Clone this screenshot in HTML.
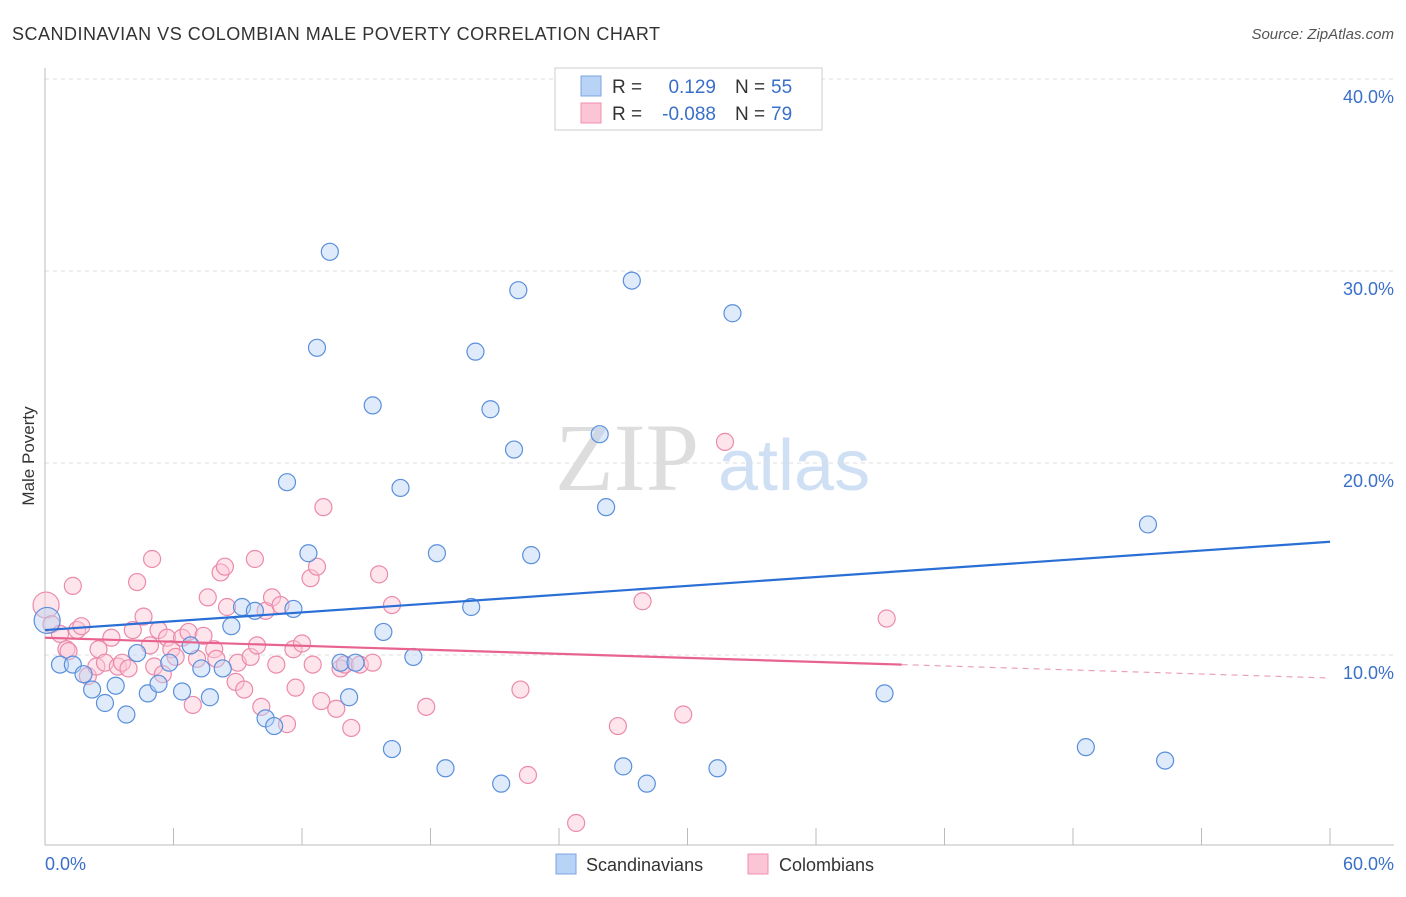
<!DOCTYPE html>
<html><head><meta charset="utf-8"><style>
body{margin:0;background:#fff;font-family:"Liberation Sans",sans-serif;}
</style></head><body>
<svg width="1406" height="892" xmlns="http://www.w3.org/2000/svg">
<text x="12" y="40" font-size="18" fill="#333" textLength="648">SCANDINAVIAN VS COLOMBIAN MALE POVERTY CORRELATION CHART</text>
<text x="1394" y="39" font-size="15" fill="#555" font-style="italic" text-anchor="end">Source: ZipAtlas.com</text>
<text x="555" y="490" font-size="96" fill="#ddd" font-family="Liberation Serif">ZIP</text>
<text x="718" y="490" font-size="72" fill="#cfe0f5">atlas</text>
<g id="grid"></g><g id="axes"></g><g id="pts"></g><g id="lines"></g>
<text transform="translate(34,456) rotate(-90)" font-size="17" fill="#333" text-anchor="middle">Male Poverty</text>
<text x="45" y="870" font-size="18" fill="#3a6fc9">0.0%</text>
<text x="1394" y="870" font-size="18" fill="#3a6fc9" text-anchor="end">60.0%</text>
<g>
<rect x="555" y="68" width="267" height="62" fill="#fff" stroke="#ccc"/>
<rect x="581" y="76" width="20" height="20" fill="#b8d3f5" stroke="#7aa5e0"/>
<rect x="581" y="103" width="20" height="20" fill="#fcc5d5" stroke="#f090b0"/>
<text x="612" y="93" font-size="19" fill="#333">R =</text><text x="716" y="93" font-size="19" fill="#3a6fc9" text-anchor="end">0.129</text>
<text x="735" y="93" font-size="19" fill="#333">N =</text><text x="771" y="93" font-size="19" fill="#3a6fc9">55</text>
<text x="612" y="120" font-size="19" fill="#333">R =</text><text x="716" y="120" font-size="19" fill="#3a6fc9" text-anchor="end">-0.088</text>
<text x="735" y="120" font-size="19" fill="#333">N =</text><text x="771" y="120" font-size="19" fill="#3a6fc9">79</text>
</g>
<g>
<rect x="556" y="854" width="20" height="20" fill="#b8d3f5" stroke="#7aa5e0"/>
<text x="586" y="871" font-size="18" fill="#333">Scandinavians</text>
<rect x="748" y="854" width="20" height="20" fill="#fcc5d5" stroke="#f090b0"/>
<text x="779" y="871" font-size="18" fill="#333">Colombians</text>
</g>
</svg>
<script>
const yTicks=[10,20,30,40];
const xTicks=[0,6,12,18,24,30,36,42,48,54,60];
const blueX=[0.1,0.7,1.3,1.8,2.2,2.8,3.3,3.8,4.3,4.8,5.3,5.8,6.4,6.8,7.3,7.7,8.3,8.7,9.2,9.8,10.3,10.7,11.3,11.6,12.3,12.7,13.3,13.8,14.2,14.5,15.3,15.8,16.2,16.6,17.2,18.3,18.7,19.9,20.1,20.8,21.3,21.9,22.1,22.7,25.9,26.2,27.0,27.4,28.1,31.4,32.1,39.2,48.6,51.5,52.3];
const blueY=[11.8,9.5,9.5,9.0,8.2,7.5,8.4,6.9,10.1,8.0,8.5,9.6,8.1,10.5,9.3,7.8,9.3,11.5,12.5,12.3,6.7,6.3,19.0,12.4,15.3,26.0,31.0,9.6,7.8,9.6,23.0,11.2,5.1,18.7,9.9,15.3,4.1,12.5,25.8,22.8,3.3,20.7,29.0,15.2,21.5,17.7,4.2,29.5,3.3,4.1,27.8,8.0,5.2,16.8,4.5];
const pinkX=[0.05,0.3,0.7,1.0,1.1,1.3,1.5,1.7,2.0,2.4,2.5,2.8,3.1,3.4,3.6,3.9,4.1,4.3,4.6,4.9,5.1,5.0,5.3,5.5,5.7,5.9,6.1,6.4,6.7,6.9,7.1,7.4,7.6,7.9,8.0,8.2,8.4,8.5,8.9,9.0,9.3,9.6,9.8,9.9,10.1,10.3,10.6,10.8,11.0,11.3,11.6,11.7,12.0,12.4,12.5,12.7,12.9,13.0,13.6,13.8,14.0,14.3,14.7,15.3,15.6,16.2,17.8,22.2,22.55,24.8,26.75,27.9,29.8,31.75,39.3];
const pinkY=[12.6,11.6,11.1,10.3,10.2,13.6,11.3,11.5,8.9,9.4,10.3,9.6,10.9,9.4,9.6,9.3,11.3,13.8,12.0,10.5,9.4,15.0,11.3,9.0,10.9,10.3,9.9,10.9,11.2,7.4,9.8,11.0,13.0,10.3,9.8,14.3,14.6,12.5,8.6,9.6,8.2,9.9,15.0,10.5,7.3,12.3,13.0,9.5,12.6,6.4,10.3,8.3,10.6,14.0,9.5,14.6,7.6,17.7,7.2,9.3,9.5,6.2,9.5,9.6,14.2,12.6,7.3,8.2,3.75,1.25,6.3,12.8,6.9,21.1,11.9];
const blueLine=[[0,11.3],[60,15.9]];
const pinkLine=[[0,10.9],[40,9.5]];
const pinkDash=[[40,9.5],[60,8.8]];
const X=v=>45+v*(1285/60), Y=v=>847-v*19.2;
const NS="http://www.w3.org/2000/svg";
function mk(t,a,p){const e=document.createElementNS(NS,t);for(const k in a)e.setAttribute(k,a[k]);document.getElementById(p).appendChild(e);return e;}
yTicks.forEach(t=>{const l=mk('line',{x1:45,x2:1394,y1:Y(t),y2:Y(t),stroke:'#ddd','stroke-dasharray':'4,4'},'grid');


const tx=mk('text',{x:1394,y:Y(t)+24,'font-size':18,fill:'#3a6fc9','text-anchor':'end'},'grid');tx.textContent=t.toFixed(1)+'%';

});
const ax=mk('line',{x1:45,x2:45,y1:68,y2:845,stroke:'#bbb'},'axes');


const bx=mk('line',{x1:45,x2:1394,y1:845,y2:845,stroke:'#bbb'},'axes');


xTicks.forEach(t=>{const l=mk('line',{x1:X(t),x2:X(t),y1:828,y2:845,stroke:'#bbb'},'axes');

});
function pts(xs,ys,f,s,n){xs.forEach((x,i)=>{const r=i==0?13:8.5;const c=mk('circle',{cx:X(x),cy:Y(ys[i]),r:r,fill:f,'fill-opacity':0.45,stroke:s,'stroke-width':1.2},'pts');

});}
pts(pinkX,pinkY,'#fcc5d5','#eb8aab','colombian-point');
pts(blueX,blueY,'#b8d3f5','#5a8fdc','scandinavian-point');
function ln(d,c,w,da,n){const l=mk('line',{x1:X(d[0][0]),y1:Y(d[0][1]),x2:X(d[1][0]),y2:Y(d[1][1]),stroke:c,'stroke-width':w,'stroke-dasharray':da},'lines');

}
ln(blueLine,'#2a6fd6',2.2,'none','scandinavian-trend');
ln(pinkLine,'#e8638f',2.2,'none','colombian-trend');
ln(pinkDash,'#eca0b8',1.2,'6,5','colombian-trend-extension');
</script>
</body></html>
